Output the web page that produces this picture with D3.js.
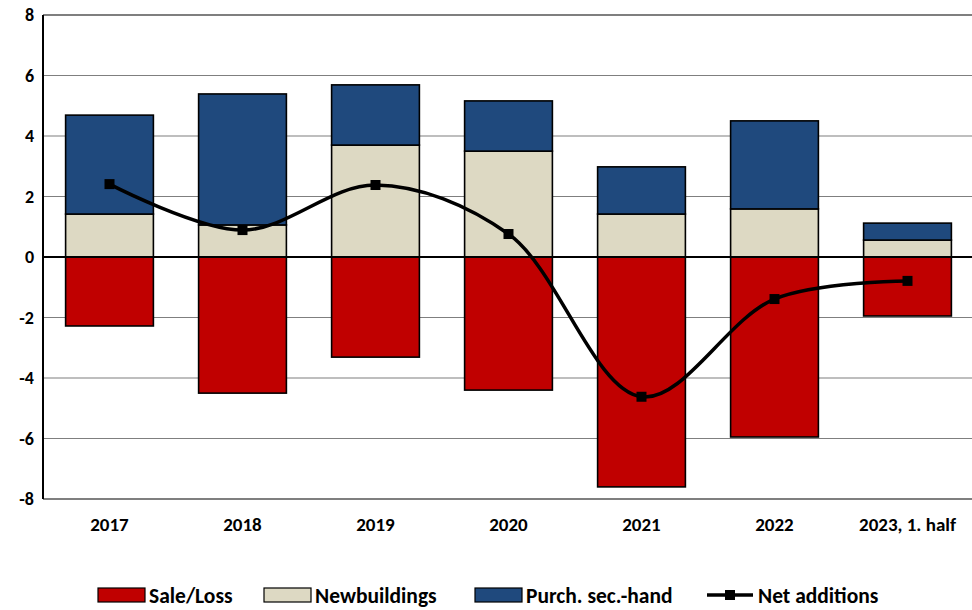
<!DOCTYPE html>
<html>
<head>
<meta charset="utf-8">
<script src="https://cdn.jsdelivr.net/npm/d3@7"></script>
<style>
  body { margin: 0; background: #fff; }
  svg text { font-family: Carlito, "Liberation Sans Narrow", "Open Sans", sans-serif; font-weight: bold; fill: #000; }
</style>
</head>
<body>
<svg id="chart" width="972" height="610"></svg>
<script>
const years = ['2017', '2018', '2019', '2020', '2021', '2022', '2023, 1. half'];
const saleLoss = [-2.28, -4.50, -3.31, -4.40, -7.60, -5.95, -1.95];
const newbuildings = [1.42, 1.06, 3.70, 3.50, 1.42, 1.59, 0.56];
const purchSecHand = [3.27, 4.33, 1.99, 1.66, 1.56, 2.91, 0.56];
const netAdditions = [2.41, 0.89, 2.38, 0.76, -4.62, -1.39, -0.79];
const yTicks = [-8, -6, -4, -2, 0, 2, 4, 6, 8];

const colours = { sale: '#c00000', nb: '#ddd9c3', ph: '#1f497d' };

const svg = d3.select('#chart');
const plotL = 43, plotR = 974, plotT = 15, plotB = 499;

const x = d3.scaleBand().domain(years).range([plotL, plotR]).paddingInner(0.34).paddingOuter(0.17);
const y = d3.scaleLinear().domain([-8, 8]).range([plotB, plotT]);

/* gridlines */
svg.append('g').selectAll('line')
  .data(yTicks.filter((t) => t !== 0 && t !== -8 && t !== 8))
  .enter().append('line')
  .attr('x1', plotL).attr('x2', plotR)
  .attr('y1', (d) => y(d)).attr('y2', (d) => y(d))
  .attr('stroke', '#7f7f7f').attr('stroke-width', 1.2);

/* stacked bars */
const rows = years.map((yr, i) => ({
  yr,
  parts: [
    { key: 'sale', y0: 0, y1: saleLoss[i] },
    { key: 'nb', y0: 0, y1: newbuildings[i] },
    { key: 'ph', y0: newbuildings[i], y1: newbuildings[i] + purchSecHand[i] },
  ],
}));

const barG = svg.append('g');
rows.forEach((r) => {
  barG.selectAll(null)
    .data(r.parts)
    .enter().append('rect')
    .attr('x', x(r.yr))
    .attr('width', x.bandwidth())
    .attr('y', (d) => y(Math.max(d.y0, d.y1)))
    .attr('height', (d) => Math.abs(y(d.y0) - y(d.y1)))
    .attr('fill', (d) => colours[d.key])
    .attr('stroke', '#000')
    .attr('stroke-width', 1.6);
});

/* frame and zero line */
svg.append('line').attr('x1', plotL).attr('x2', plotR).attr('y1', y(0)).attr('y2', y(0))
  .attr('stroke', '#000').attr('stroke-width', 2);
svg.append('line').attr('x1', plotL).attr('x2', plotR).attr('y1', plotT).attr('y2', plotT)
  .attr('stroke', '#000').attr('stroke-width', 1.2);
svg.append('line').attr('x1', plotL).attr('x2', plotR).attr('y1', plotB).attr('y2', plotB)
  .attr('stroke', '#000').attr('stroke-width', 1.2);
svg.append('line').attr('x1', plotL).attr('x2', plotL).attr('y1', plotT).attr('y2', plotB)
  .attr('stroke', '#000').attr('stroke-width', 2);

/* net additions line */
const cx = (i) => x(years[i]) + x.bandwidth() / 2;
const line = d3.line()
  .x((d, i) => cx(i))
  .y((d) => y(d))
  .curve(d3.curveCatmullRom.alpha(0.5));

svg.append('path')
  .datum(netAdditions)
  .attr('d', line)
  .attr('fill', 'none')
  .attr('stroke', '#000')
  .attr('stroke-width', 3.5);

svg.append('g').selectAll('rect')
  .data(netAdditions)
  .enter().append('rect')
  .attr('x', (d, i) => cx(i) - 5)
  .attr('y', (d) => y(d) - 5)
  .attr('width', 10).attr('height', 10)
  .attr('fill', '#000');

/* y labels */
svg.append('g').selectAll('text')
  .data(yTicks)
  .enter().append('text')
  .attr('x', 34)
  .attr('y', (d) => y(d))
  .attr('dy', '0.35em')
  .attr('text-anchor', 'end')
  .attr('font-size', 18)
  .text((d) => d);

/* x labels */
svg.append('g').selectAll('text')
  .data(years)
  .enter().append('text')
  .attr('x', (d) => x(d) + x.bandwidth() / 2)
  .attr('y', 531)
  .attr('text-anchor', 'middle')
  .attr('font-size', 19)
  .text((d) => d);

/* legend */
const legendItems = [
  { label: 'Sale/Loss', type: 'box', fill: colours.sale, x: 98 },
  { label: 'Newbuildings', type: 'box', fill: colours.nb, x: 264 },
  { label: 'Purch. sec.-hand', type: 'box', fill: colours.ph, x: 475 },
  { label: 'Net additions', type: 'line', x: 707 },
];
const lg = svg.append('g');
const legY = 595;
legendItems.forEach((it) => {
  if (it.type === 'box') {
    lg.append('rect').attr('x', it.x).attr('y', legY - 7).attr('width', 47).attr('height', 14)
      .attr('fill', it.fill).attr('stroke', '#000').attr('stroke-width', 1.2);
  } else {
    lg.append('line').attr('x1', it.x).attr('x2', it.x + 46).attr('y1', legY).attr('y2', legY)
      .attr('stroke', '#000').attr('stroke-width', 3.5);
    lg.append('rect').attr('x', it.x + 18).attr('y', legY - 5).attr('width', 10).attr('height', 10)
      .attr('fill', '#000');
  }
  lg.append('text').attr('x', it.x + 51).attr('y', legY).attr('dy', '0.35em')
    .attr('font-size', 21.5).text(it.label);
});
</script>
</body>
</html>
